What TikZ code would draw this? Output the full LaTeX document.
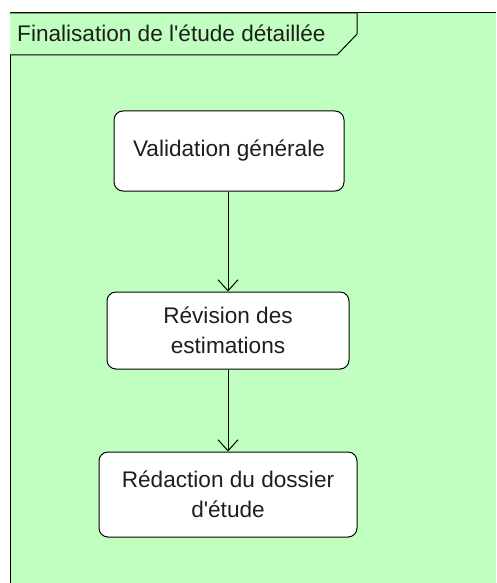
\documentclass[tikz,border=0pt]{standalone}
\usepackage{fontspec}
\setmainfont{Liberation Sans}
\usetikzlibrary{arrows.meta}
\definecolor{framegreen}{RGB}{192,255,192}
\definecolor{ink}{RGB}{30,30,30}
\newcommand{\apos}{\textquotesingle}
\tikzset{
  line/.style={draw=black, line width=1pt},
  action/.style={line, fill=white, rounded corners=9pt, align=center,
    text=ink, font=\fontsize{22.6pt}{30pt}\selectfont, inner sep=0pt},
  flow/.style={line, -{Straight Barb[length=11pt, width=20pt, line width=1pt]}},
  tabtext/.style={anchor=base west, text=ink, inner sep=0pt,
    font=\fontsize{22.6pt}{28pt}\selectfont}
}
\begin{document}
\begin{tikzpicture}[x=1pt, y=-1pt]
  \useasboundingbox (0,0) rectangle (496,583);
  % activity frame
  \fill[framegreen] (10,13) rectangle (496,583);
  \draw[line] (10,583) -- (10,13) -- (496,13);
  % name tab
  \draw[line, fill=framegreen] (10,13) -- (357,13) -- (357,34) -- (337,55) -- (10,55);
  \node[tabtext] (title) at (17,42) {Finalisation de l\apos étude détaillée};
  % actions
  \node[action, minimum width=230pt, minimum height=80pt] (valid) at (229,151) {Validation générale};
  \node[action, minimum width=242pt, minimum height=77pt] (revis) at (228,330.5) {Révision des\\estimations};
  \node[action, minimum width=258pt, minimum height=85pt] (redac) at (228,494.5) {Rédaction du dossier\\d\apos étude};
  % transitions
  \draw[flow] (valid.south -| revis.north) -- (revis.north);
  \draw[flow] (revis.south) -- (redac.north);
\end{tikzpicture}
\end{document}
